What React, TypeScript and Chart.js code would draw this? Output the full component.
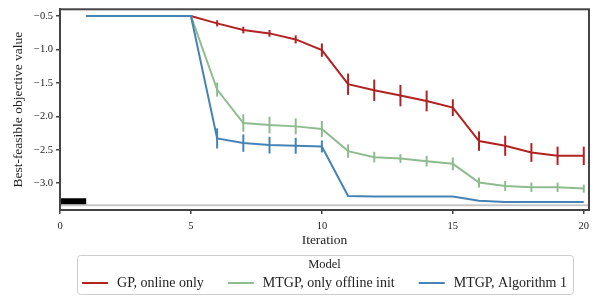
import React, { useEffect, useRef } from "react";
import { Chart, registerables } from "chart.js";

Chart.register(...registerables);

const iterations = [1, 2, 3, 4, 5, 6, 7, 8, 9, 10, 11, 12, 13, 14, 15, 16, 17, 18, 19, 20];
const gpOnlineMean = [-0.5, -0.5, -0.5, -0.5, -0.5, -0.61, -0.71, -0.76, -0.85, -1.01, -1.52, -1.61, -1.69, -1.77, -1.87, -2.37, -2.44, -2.54, -2.59, -2.59];
const gpOnlineErr = [0, 0, 0, 0, 0, 0.045, 0.05, 0.05, 0.06, 0.1, 0.16, 0.16, 0.16, 0.155, 0.125, 0.145, 0.15, 0.14, 0.137, 0.137];
const mtgpOfflineMean = [-0.5, -0.5, -0.5, -0.5, -0.5, -1.6, -2.1, -2.13, -2.15, -2.19, -2.52, -2.61, -2.63, -2.67, -2.71, -2.99, -3.04, -3.06, -3.06, -3.08];
const mtgpOfflineErr = [0, 0, 0, 0, 0, 0.105, 0.13, 0.125, 0.12, 0.12, 0.1, 0.08, 0.065, 0.08, 0.095, 0.075, 0.075, 0.07, 0.07, 0.06];
const mtgpAlgMean = [-0.5, -0.5, -0.5, -0.5, -0.5, -2.33, -2.4, -2.43, -2.44, -2.45, -3.19, -3.2, -3.2, -3.2, -3.2, -3.26, -3.28, -3.28, -3.28, -3.28];
const mtgpAlgErr = [0, 0, 0, 0, 0, 0.15, 0.13, 0.125, 0.12, 0.09, 0.01, 0.005, 0.005, 0.005, 0.005, 0.005, 0.005, 0.005, 0.005, 0.005];
const optimumLevel = -3.33;
const offlineMarkerLevel = -3.27;
const offlineMarkerX = [0, 1];
const xTicks = [0, 5, 10, 15, 20];
const yTicks = [-3.0, -2.5, -2.0, -1.5, -1.0, -0.5];
const seriesNames = ["GP, online only", "MTGP, only offline init", "MTGP, Algorithm 1"];
const legendTitle = "Model";

const RED = "#b22222";
const GREEN = "#8fbc8f";
const BLUE = "#4682b4";
const FRAME = "#444444";
const TEXT = "#222222";
const FONT = "'Liberation Serif', 'Times New Roman', serif";

export default function App() {
  const ref = useRef<HTMLCanvasElement>(null);
  useEffect(() => {
    if (!ref.current) return;
    const pts = (m: number[]) => iterations.map((x, i) => ({ x, y: m[i] }));
    const errs: Record<number, number[]> = { 0: mtgpAlgErr, 1: mtgpOfflineErr, 2: gpOnlineErr };
    const errorBarPlugin = {
      id: "errorBars",
      afterDatasetDraw(chart: any, args: any) {
        const e = errs[args.index];
        if (!e) return;
        const ds = chart.data.datasets[args.index];
        const ctx = chart.ctx;
        const xs = chart.scales.x;
        const ys = chart.scales.y;
        ctx.save();
        ctx.strokeStyle = ds.borderColor;
        ctx.lineWidth = 2;
        ds.data.forEach((p: any, i: number) => {
          if (!e[i] || e[i] < 0.02) return;
          const px = xs.getPixelForValue(p.x);
          ctx.beginPath();
          ctx.moveTo(px, ys.getPixelForValue(p.y - e[i]));
          ctx.lineTo(px, ys.getPixelForValue(p.y + e[i]));
          ctx.stroke();
        });
        ctx.restore();
      },
    };
    const framePlugin = {
      id: "frameAndLegend",
      afterDraw(chart: any) {
        const { ctx, chartArea: a } = chart;
        ctx.save();
        ctx.strokeStyle = FRAME;
        ctx.lineWidth = 2;
        ctx.strokeRect(a.left, a.top, a.right - a.left, a.bottom - a.top);

        // legend (drawn below the axes, centred on the plot area)
        const colors = [RED, GREEN, BLUE];
        const itemFont = `14px ${FONT}`;
        ctx.font = itemFont;
        const lineW = 26, gapLT = 9, gapItems = 24;
        const widths = seriesNames.map((n) => ctx.measureText(n).width);
        const total = widths.reduce((s, w) => s + lineW + gapLT + w, 0) + gapItems * (seriesNames.length - 1);
        const cx = (a.left + a.right) / 2;
        let x = cx - total / 2;
        const boxL = x - 5, boxR = x + total + 6;
        const boxT = a.bottom + 45, boxB = a.bottom + 84;
        ctx.strokeStyle = "#cccccc";
        ctx.lineWidth = 1;
        ctx.beginPath();
        ctx.roundRect(Math.round(boxL) + 0.5, Math.round(boxT) + 0.5, Math.round(boxR - boxL), Math.round(boxB - boxT), 3);
        ctx.stroke();
        ctx.fillStyle = TEXT;
        ctx.textBaseline = "middle";
        ctx.textAlign = "center";
        ctx.font = `12.5px ${FONT}`;
        ctx.fillText(legendTitle, cx, boxT + 10);
        ctx.textAlign = "left";
        ctx.font = itemFont;
        const iy = boxT + 28;
        seriesNames.forEach((n, i) => {
          ctx.strokeStyle = colors[i];
          ctx.lineWidth = 2;
          ctx.beginPath();
          ctx.moveTo(x, iy);
          ctx.lineTo(x + lineW, iy);
          ctx.stroke();
          ctx.fillStyle = TEXT;
          ctx.fillText(n, x + lineW + gapLT, iy);
          x += lineW + gapLT + widths[i] + gapItems;
        });
        ctx.restore();
      },
    };
    const chart = new Chart(ref.current, {
      type: "line",
      data: {
        datasets: [
          { label: seriesNames[2], data: pts(mtgpAlgMean), borderColor: BLUE, backgroundColor: BLUE, borderWidth: 2, pointRadius: 0 },
          { label: seriesNames[1], data: pts(mtgpOfflineMean), borderColor: GREEN, backgroundColor: GREEN, borderWidth: 2, pointRadius: 0 },
          { label: seriesNames[0], data: pts(gpOnlineMean), borderColor: RED, backgroundColor: RED, borderWidth: 2, pointRadius: 0 },
          { label: "marker", data: offlineMarkerX.map((x) => ({ x, y: offlineMarkerLevel })), borderColor: "#000000", borderWidth: 6, pointRadius: 0, borderCapStyle: "butt" },
          { label: "optimum", data: [{ x: 0, y: optimumLevel }, { x: 20.2, y: optimumLevel }], borderColor: "#c8c8c8", borderWidth: 2, pointRadius: 0 },
        ],
      },
      options: {
        animation: false,
        responsive: false,
        maintainAspectRatio: false,
        layout: { padding: { left: 0, right: 11, top: 9, bottom: 48 } },
        plugins: {
          tooltip: { enabled: false },
          legend: { display: false },
        },
        scales: {
          x: {
            type: "linear",
            min: 0,
            max: 20.2,
            afterFit: (s: any) => { s.height = 42; },
            afterBuildTicks: (s: any) => { s.ticks = xTicks.map((v) => ({ value: v })); },
            grid: { drawOnChartArea: false, drawTicks: true, tickLength: 4, color: FRAME, lineWidth: 1.5 },
            border: { display: true, color: FRAME, width: 2 },
            ticks: { color: TEXT, font: { family: FONT, size: 10.5 }, padding: 6, maxRotation: 0 },
            title: { display: true, text: "Iteration", color: TEXT, font: { family: FONT, size: 13.5 }, padding: { top: 2, bottom: 3 } },
          },
          y: {
            type: "linear",
            min: -3.4,
            max: -0.4,
            afterFit: (s: any) => { s.width = 60; },
            afterBuildTicks: (s: any) => { s.ticks = yTicks.map((v) => ({ value: v })); },
            grid: { drawOnChartArea: false, drawTicks: true, tickLength: 4, color: FRAME, lineWidth: 1.5 },
            border: { display: true, color: FRAME, width: 2 },
            ticks: {
              color: TEXT,
              font: { family: FONT, size: 10.5 },
              padding: 3,
              callback: (v: any) => (Number(v) < 0 ? "\u2212" : "") + Math.abs(Number(v)).toFixed(1),
            },
            title: { display: true, text: "Best-feasible objective value", color: TEXT, font: { family: FONT, size: 13.5 }, padding: { top: 10, bottom: 0 } },
          },
        },
      },
      plugins: [errorBarPlugin, framePlugin],
    } as any);
    return () => chart.destroy();
  }, []);
  return (
    <div style={{ position: "fixed", left: 0, top: 0, width: 600, height: 300, background: "#fff" }}>
      <canvas ref={ref} width={600} height={300} style={{ width: 600, height: 300 }} />
    </div>
  );
}
